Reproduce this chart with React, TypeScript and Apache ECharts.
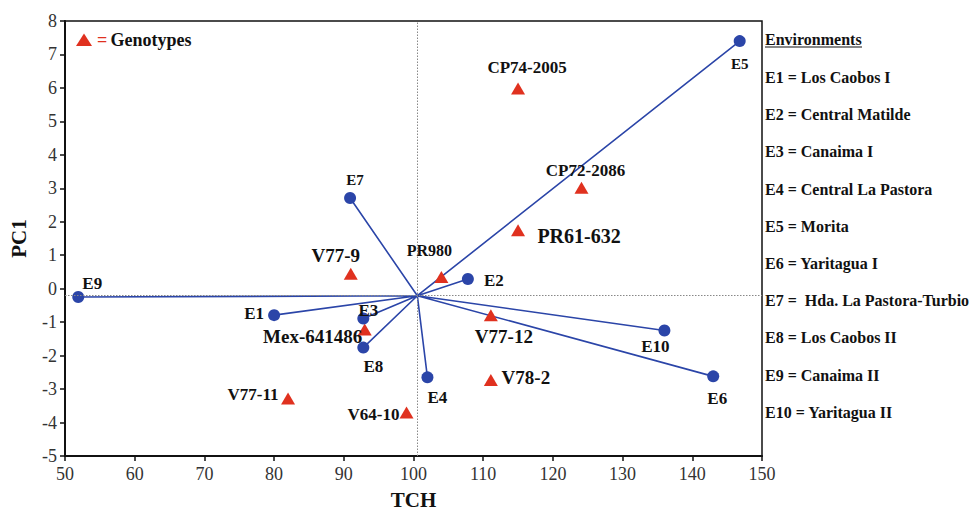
import React, { useEffect, useRef } from "react";
import * as echarts from "echarts";

// ---- data ----
const envNames = ["E1", "E2", "E3", "E4", "E5", "E6", "E7", "E8", "E9", "E10"];
const envTCH = [80.0, 107.8, 92.8, 102.0, 146.8, 143.0, 90.9, 92.8, 51.9, 136.0];
const envPC1 = [-0.79, 0.29, -0.89, -2.65, 7.4, -2.62, 2.71, -1.76, -0.25, -1.25];
const envLocations = [
  "Los Caobos I",
  "Central Matilde",
  "Canaima I",
  "Central La Pastora",
  "Morita",
  "Yaritagua I",
  " Hda. La Pastora-Turbio",
  "Los Caobos II",
  "Canaima II",
  "Yaritagua II",
];
const genoNames = [
  "CP74-2005",
  "CP72-2086",
  "PR61-632",
  "PR980",
  "V77-9",
  "Mex-641486",
  "V77-12",
  "V78-2",
  "V64-10",
  "V77-11",
];
const genoTCH = [115.0, 124.1, 115.0, 104.0, 91.0, 93.0, 111.1, 111.1, 99.0, 82.0];
const genoPC1 = [5.98, 3.02, 1.75, 0.35, 0.45, -1.22, -0.79, -2.73, -3.7, -3.28];
const centerTCH = 100.55; // biplot origin (mean TCH)
const centerPC1 = -0.21; // biplot origin (mean PC1)
const xTicks = { min: 50, max: 150, step: 10 };
const yTicks = { min: -5, max: 8, step: 1 };

// ---- label styles (layout only) ----
const envLabelStyle: Record<string, { off: [number, number]; size: number }> = {
  E1: { off: [-20, -2], size: 17 },
  E2: { off: [26, 2], size: 17 },
  E3: { off: [5, -8], size: 17 },
  E4: { off: [10, 20], size: 17 },
  E5: { off: [0, 23], size: 15 },
  E6: { off: [4, 22], size: 17 },
  E7: { off: [5, -18], size: 15 },
  E8: { off: [10, 19], size: 17 },
  E9: { off: [14, -14], size: 17 },
  E10: { off: [-9, 16], size: 17 },
};
const genoLabelStyle: Record<string, { off: [number, number]; size: number }> = {
  "CP74-2005": { off: [9, -21], size: 17 },
  "CP72-2086": { off: [4, -17], size: 17 },
  "PR61-632": { off: [61, 6], size: 20 },
  PR980: { off: [-12, -26], size: 16 },
  "V77-9": { off: [-15, -18], size: 19 },
  "Mex-641486": { off: [-52, 7], size: 19 },
  "V77-12": { off: [13, 21], size: 19 },
  "V78-2": { off: [35, -3], size: 19 },
  "V64-10": { off: [-33, 2], size: 17 },
  "V77-11": { off: [-35, -4], size: 17 },
};

const BLUE = "#2B45A8";
const RED = "#E0311F";
const INK = "#111";
const SERIF = "'Liberation Serif', 'Times New Roman', serif";

export default function App() {
  const ref = useRef<HTMLDivElement>(null);
  useEffect(() => {
    if (!ref.current) return;
    const chart = echarts.init(ref.current, undefined, { renderer: "svg" });

    const spokes: number[][] = [];
    envNames.forEach((_, i) => {
      spokes.push([centerTCH, centerPC1]);
      spokes.push([envTCH[i], envPC1[i]]);
    });

    const mkLabel = (n: string, st: { off: [number, number]; size: number }) => ({
      show: true,
      formatter: n,
      position: "inside",
      align: "center",
      verticalAlign: "middle",
      offset: st.off,
      fontSize: st.size,
      fontFamily: SERIF,
      fontWeight: "bold",
      color: INK,
      textBorderWidth: 0,
    });

    const envData = envNames.map((n, i) => ({
      name: n,
      value: [envTCH[i], envPC1[i]],
      label: mkLabel(n, envLabelStyle[n]),
    }));
    const genoData = genoNames.map((n, i) => ({
      name: n,
      value: [genoTCH[i], genoPC1[i]],
      label: mkLabel(n, genoLabelStyle[n]),
    }));

    const legendTop = 40;
    const firstRow = 78.5;
    const rowGap = 37.2;
    const legendX = 765;
    const legendGraphics: any[] = [
      {
        type: "text",
        left: legendX,
        top: legendTop - 9,
        style: {
          text: "Environments",
          font: `bold 16px ${SERIF}`,
          fill: INK,
        },
      },
      {
        type: "line",
        shape: { x1: legendX, y1: legendTop + 7, x2: legendX + 97, y2: legendTop + 7 },
        style: { stroke: INK, lineWidth: 1.2 },
      },
      ...envNames.map((n, i) => ({
        type: "text",
        left: legendX,
        top: firstRow + i * rowGap - 9,
        style: {
          text: `${n} = ${envLocations[i]}`,
          font: `bold 16px ${SERIF}`,
          fill: INK,
        },
      })),
      {
        type: "polygon",
        shape: { points: [[76, 46], [92, 46], [84, 33.5]] },
        style: { fill: RED },
      },
      {
        type: "text",
        x: 97,
        y: 40,
        style: {
          text: "{r|=} {b|Genotypes}",
          verticalAlign: "middle",
          rich: {
            r: { fill: RED, font: `bold 18px ${SERIF}` },
            b: { fill: INK, font: `bold 18px ${SERIF}` },
          },
        },
      },
    ];

    chart.setOption({
      animation: false,
      backgroundColor: "#fff",
      textStyle: { fontFamily: SERIF },
      grid: {
        left: 65,
        top: 21,
        right: 211,
        bottom: 57,
        containLabel: false,
        outerBoundsMode: "none",
        show: true,
        borderColor: INK,
        borderWidth: 1.5,
      },
      xAxis: {
        type: "value",
        min: xTicks.min,
        max: xTicks.max,
        interval: xTicks.step,
        name: "TCH",
        nameLocation: "middle",
        nameGap: 33,
        nameTextStyle: { fontFamily: SERIF, fontWeight: "bold", fontSize: 21, color: INK },
        axisLine: { onZero: false, lineStyle: { color: INK, width: 2 } },
        axisTick: { show: true, length: 5, lineStyle: { color: INK, width: 1.5 } },
        axisLabel: { fontFamily: SERIF, fontSize: 18, color: "#333", margin: 9 },
        splitLine: { show: false },
      },
      yAxis: {
        type: "value",
        min: yTicks.min,
        max: yTicks.max,
        interval: yTicks.step,
        name: "PC1",
        nameLocation: "middle",
        nameGap: 36,
        nameTextStyle: { fontFamily: SERIF, fontWeight: "bold", fontSize: 21, color: INK },
        axisLine: { onZero: false, lineStyle: { color: INK, width: 2 } },
        axisTick: { show: true, length: 5, lineStyle: { color: INK, width: 1.5 } },
        axisLabel: { fontFamily: SERIF, fontSize: 18, color: "#333", margin: 8 },
        splitLine: { show: false },
      },
      graphic: legendGraphics,
      series: [
        {
          type: "line",
          data: spokes,
          symbol: "none",
          silent: true,
          z: 2,
          lineStyle: { color: BLUE, width: 1.6 },
          markLine: {
            silent: true,
            symbol: "none",
            label: { show: false },
            lineStyle: { color: "#888", type: [1.5, 1.5], width: 1 },
            data: [{ xAxis: centerTCH }, { yAxis: centerPC1 }],
          },
        },
        {
          type: "scatter",
          data: genoData,
          symbol: "triangle",
          symbolSize: [14, 12],
          itemStyle: { color: RED, opacity: 1 },
          z: 3,
        },
        {
          type: "scatter",
          data: envData,
          symbol: "circle",
          symbolSize: 12,
          itemStyle: { color: BLUE, opacity: 1 },
          z: 4,
        },
      ],
    });
    return () => chart.dispose();
  }, []);
  return (
    <div
      ref={ref}
      style={{ position: "absolute", left: 0, top: 0, width: 973, height: 513 }}
    />
  );
}
